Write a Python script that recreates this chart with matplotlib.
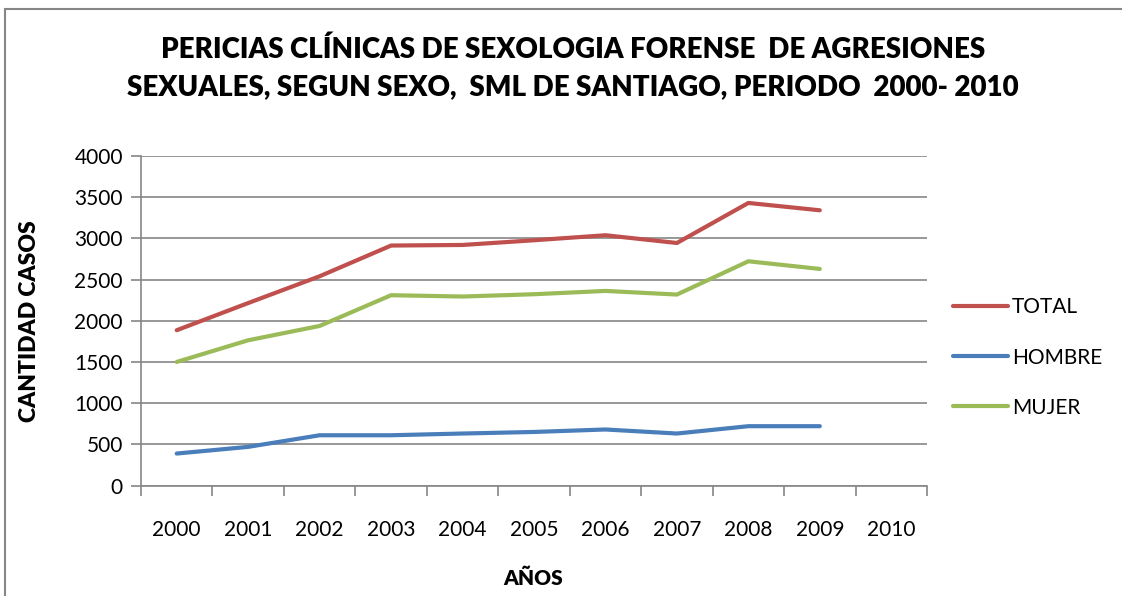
import matplotlib.pyplot as plt
from matplotlib.patches import Rectangle
import numpy as np

plt.rcParams['font.family'] = ['Lato', 'DejaVu Sans']

# Data
years = ['2000', '2001', '2002', '2003', '2004', '2005', '2006', '2007', '2008', '2009', '2010']
total = [1885, 2215, 2540, 2913, 2920, 2977, 3038, 2944, 3430, 3341]
hombre = [388, 469, 610, 610, 631, 650, 680, 631, 720, 720]
mujer = [1500, 1763, 1937, 2310, 2294, 2322, 2362, 2318, 2722, 2629]

grid_col = '#868686'

fig = plt.figure(figsize=(11.22, 5.96), dpi=100)
ax = fig.add_axes([141 / 1122, 1 - 485.5 / 596, 786 / 1122, 329.5 / 596])

x = np.arange(len(total))
ax.plot(x, total, color='#C0504D', lw=3, solid_capstyle='round', solid_joinstyle='round', label='TOTAL')
ax.plot(x, hombre, color='#4A7EBB', lw=3, solid_capstyle='round', solid_joinstyle='round', label='HOMBRE')
ax.plot(x, mujer, color='#9BBB59', lw=3, solid_capstyle='round', solid_joinstyle='round', label='MUJER')

ax.set_xlim(-0.5, len(years) - 0.5)
ax.set_ylim(0, 4000)
ax.set_yticks(range(0, 4001, 500))
ax.yaxis.grid(True, color=grid_col, lw=1.2)
ax.set_axisbelow(True)

# category axis: labels centred, tick marks between categories
ax.set_xticks(np.arange(len(years)))
ax.set_xticklabels(years)
ax.set_xticks(np.arange(len(years) + 1) - 0.5, minor=True)
ax.tick_params(axis='x', which='major', length=0, pad=25, labelsize=15)
ax.tick_params(axis='x', which='minor', length=7, width=1.2, color=grid_col)
ax.tick_params(axis='y', length=7, width=1.2, color=grid_col, labelsize=15, pad=6)

for s in ['top', 'right']:
    ax.spines[s].set_visible(False)
for s in ['left', 'bottom']:
    ax.spines[s].set_color(grid_col)
    ax.spines[s].set_linewidth(1.2)

ax.set_ylabel('CANTIDAD CASOS', fontsize=16.5, fontweight='heavy')
ax.yaxis.set_label_coords(-0.128, 0.5)
fig.text(533 / 1122, 1 - 578 / 596, 'AÑOS', ha='center', va='center', fontsize=15, fontweight='heavy')

fig.text(573 / 1122, 1 - 50 / 596, 'PERICIAS CLÍNICAS DE SEXOLOGIA FORENSE  DE AGRESIONES',
         ha='center', va='center', fontsize=20, fontweight='heavy')
fig.text(573 / 1122, 1 - 87 / 596, 'SEXUALES, SEGUN SEXO,  SML DE SANTIAGO, PERIODO  2000- 2010',
         ha='center', va='center', fontsize=20, fontweight='heavy')

ax.legend(loc='upper left', bbox_to_anchor=(945 / 1122, 1 - 289 / 596), bbox_transform=fig.transFigure,
          frameon=False, fontsize=15, handlelength=2.6, handletextpad=0.2, labelspacing=1.45,
          borderaxespad=0)

# outer chart border (right and bottom edges fall outside the image)
fig.patches.append(Rectangle((5 / 1122, -0.1), 1.2, 1 - 8.5 / 596 + 0.1, transform=fig.transFigure,
                             fill=False, edgecolor=grid_col, lw=1.5))

fig.savefig('out.png', dpi=100)
